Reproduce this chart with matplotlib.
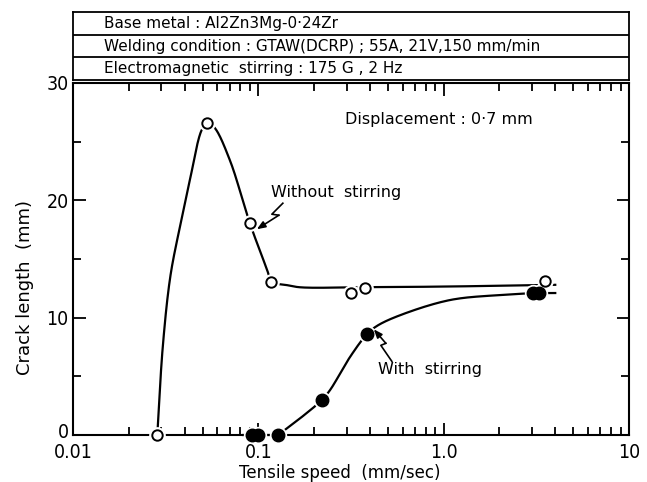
import numpy as np
import matplotlib
matplotlib.use('Agg')
import matplotlib.pyplot as plt
import matplotlib.transforms as mtransforms
from matplotlib.ticker import LogLocator, NullFormatter, MultipleLocator

## values
# open circles : without stirring
ws_x = [0.0285, 0.0531, 0.090, 0.1167, 0.315, 0.377, 3.52]
ws_y = [0.0, 26.6, 18.05, 13.07, 12.1, 12.56, 13.15]
# filled circles : with stirring
st_x = [0.093, 0.100, 0.128, 0.22, 0.385, 3.05, 3.28]
st_y = [0.0, 0.0, 0.0, 2.98, 8.58, 12.08, 12.08]

# hand drawn curves
ws_curve_x = [0.0285, 0.0305, 0.0335, 0.0378, 0.0428, 0.0495, 0.0531, 0.058, 0.0703, 0.090,
              0.113, 0.1167, 0.142, 0.168, 0.38, 1.0, 4.0]
ws_curve_y = [0.0, 7.5, 13.5, 17.8, 21.8, 26.0, 26.6, 26.2, 23.4, 18.05,
              13.8, 13.07, 12.78, 12.59, 12.6, 12.65, 12.8]
st_flat_x = [0.083, 0.128]
st_flat_y = [0.0, 0.0]
st_curve_x = [0.128, 0.168, 0.22, 0.244, 0.313, 0.385, 0.436, 0.58, 1.08, 2.01, 3.03, 4.0]
st_curve_y = [0.0, 1.42, 2.98, 3.84, 6.67, 8.58, 9.29, 10.2, 11.5, 11.93, 12.08, 12.1]

x_ticks = [0.01, 0.1, 1.0, 10.0]
x_ticklabels = ['0.01', '0.1', '1.0', '10']
y_ticks = [0, 10, 20, 30]

header = ['Base metal : Al2Zn3Mg-0·24Zr',
          'Welding condition : GTAW(DCRP) ; 55A, 21V,150 mm/min',
          'Electromagnetic  stirring : 175 G , 2 Hz']


def smooth(ax, x, y, n=30, alpha=0.5):
    # centripetal Catmull-Rom through the traced points, done in pixel space
    P = ax.transData.transform(np.column_stack([x, y]))
    P = np.vstack([2 * P[0] - P[1], P, 2 * P[-1] - P[-2]])
    out = []
    for i in range(1, len(P) - 2):
        p0, p1, p2, p3 = P[i - 1], P[i], P[i + 1], P[i + 2]
        t0 = 0.0
        t1 = t0 + np.linalg.norm(p1 - p0) ** alpha
        t2 = t1 + np.linalg.norm(p2 - p1) ** alpha
        t3 = t2 + np.linalg.norm(p3 - p2) ** alpha
        t = np.linspace(t1, t2, n)[:, None]
        a1 = (t1 - t) / (t1 - t0) * p0 + (t - t0) / (t1 - t0) * p1
        a2 = (t2 - t) / (t2 - t1) * p1 + (t - t1) / (t2 - t1) * p2
        a3 = (t3 - t) / (t3 - t2) * p2 + (t - t2) / (t3 - t2) * p3
        b1 = (t2 - t) / (t2 - t0) * a1 + (t - t0) / (t2 - t0) * a2
        b2 = (t3 - t) / (t3 - t1) * a2 + (t - t1) / (t3 - t1) * a3
        c = (t2 - t) / (t2 - t1) * b1 + (t - t1) / (t2 - t1) * b2
        out.append(c)
    D = ax.transData.inverted().transform(np.vstack(out))
    return D[:, 0], D[:, 1]


plt.rcParams['font.family'] = ['DejaVu Sans']

W, H = 647, 482
fig = plt.figure(figsize=(W / 100, H / 100), dpi=100)
ax = fig.add_axes([73 / W, (H - 435) / H, 556 / W, 352 / H])
ax.set_xscale('log')
ax.set_xlim(0.01, 10)
ax.set_ylim(0, 30)

## curves
lw = 1.6
cx, cy = smooth(ax, ws_curve_x, ws_curve_y)
ax.plot(cx, cy, 'k-', lw=lw, zorder=2)
ax.plot(st_flat_x, st_flat_y, 'k-', lw=lw, zorder=2, clip_on=False)
cx, cy = smooth(ax, st_curve_x, st_curve_y)
ax.plot(cx, cy, 'k-', lw=lw, zorder=2)

## markers with a white halo so lines break around them
ax.plot(ws_x, ws_y, 'o', ms=11, color='white', zorder=3, clip_on=False)
ax.plot(st_x, st_y, 'o', ms=11.5, color='white', zorder=3, clip_on=False)
ax.plot(ws_x, ws_y, 'o', ms=7.5, mfc='white', mec='black', mew=1.4, zorder=4, clip_on=False)
ax.plot(st_x, st_y, 'o', ms=9, color='black', zorder=4, clip_on=False)

## axes look
for s in ax.spines.values():
    s.set_linewidth(1.5)
ax.set_xticks(x_ticks)
ax.set_xticklabels(x_ticklabels)
ax.xaxis.set_minor_locator(LogLocator(base=10, subs=range(2, 10)))
ax.xaxis.set_minor_formatter(NullFormatter())
ax.set_yticks(y_ticks)
ax.yaxis.set_minor_locator(MultipleLocator(5))
ax.tick_params(which='both', direction='in', top=True, right=True, width=1.3)
ax.tick_params(which='major', length=9, labelsize=14, pad=3)
ax.tick_params(which='minor', length=5.5)
ax.tick_params(axis='x', which='major', pad=6)
for lab in ax.get_xticklabels() + ax.get_yticklabels():
    lab.set_fontstretch('condensed')
# lift the "0" a little so it clears "0.01"
zero = ax.get_yticklabels()[0]
zero.set_transform(zero.get_transform() +
                   mtransforms.ScaledTranslation(0, 3 / 72, fig.dpi_scale_trans))

ax.set_xlabel('Tensile speed  (mm/sec)', fontsize=12)
ax.set_ylabel('Crack length  (mm)', fontsize=13)
ax.xaxis.set_label_coords(0.48, -0.083)
ax.yaxis.set_label_coords(-0.070, 0.42)

## texts
ax.text(0.489, 0.895, 'Displacement : 0·7 mm', transform=ax.transAxes,
        fontsize=11.5, va='center', ha='left')
ax.text(0.356, 0.6875, 'Without  stirring', transform=ax.transAxes,
        fontsize=11.5, va='center', ha='left')
ax.text(0.5486, 0.1847, 'With  stirring', transform=ax.transAxes,
        fontsize=11.5, va='center', ha='left')


def leader(x0, y0, offs):
    # lightning shaped pointer, offsets in pixels from the marker
    px, py = ax.transData.transform((x0, y0))
    inv = ax.transData.inverted()
    pts = np.array([inv.transform((px + dx, py + dy)) for dx, dy in offs])
    ax.plot(pts[:-1, 0], pts[:-1, 1], 'k-', lw=1.2, zorder=5)
    ax.annotate('', xy=pts[-1], xytext=pts[-2],
                arrowprops=dict(arrowstyle='-|>,head_length=0.5,head_width=0.2',
                                color='black', lw=1.2, shrinkA=0, shrinkB=0))


leader(ws_x[2], ws_y[2], [(33, 20), (22, 9), (29, 8), (7, -6)])
leader(st_x[4], st_y[4], [(25, -27), (14, -11), (19, -9), (7, 5)])

## header boxes
hax = fig.add_axes([73 / W, (H - 80) / H, 556 / W, 68 / H])
hax.set_xlim(0, 1)
hax.set_ylim(3, 0)
hax.set_xticks([])
hax.set_yticks([])
for s in hax.spines.values():
    s.set_linewidth(1.3)
for i, txt in enumerate(header):
    if i > 0:
        hax.axhline(i, color='black', lw=1.3)
    hax.text(0.055, i + 0.5, txt, fontsize=11, va='center', ha='left')

fig.savefig('out.png', dpi=100)
plt.close()
